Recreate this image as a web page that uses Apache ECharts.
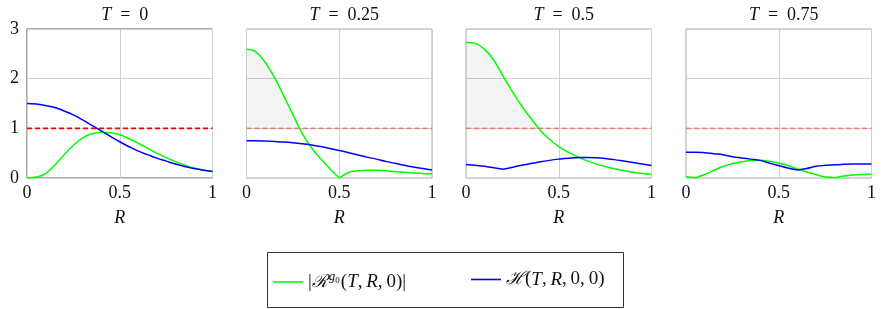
<!DOCTYPE html>
<html>
<head>
<meta charset="utf-8">
<script src="https://cdn.jsdelivr.net/npm/echarts@6/dist/echarts.min.js"></script>
<style>html,body{margin:0;padding:0;background:#fff}#c{width:883px;height:309px}</style>
</head>
<body>
<div id="c"></div>
<script>
// ---- data ----
const R = [0,0.05,0.1,0.15,0.2,0.25,0.3,0.35,0.4,0.45,0.5,0.55,0.6,0.65,0.7,0.75,0.8,0.85,0.9,0.95,1];
const panelTitles = ['0', '0.25', '0.5', '0.75'];
const xTicks = [0, 0.5, 1];
const yTicks = [0, 1, 2, 3];
const threshold = 1;

const green_T0   = [0,0.02,0.09,0.26,0.47,0.66,0.81,0.89,0.92,0.91,0.87,0.79,0.70,0.60,0.50,0.41,0.33,0.26,0.20,0.16,0.13];
const blue_T0    = [1.50,1.49,1.46,1.42,1.35,1.27,1.17,1.06,0.95,0.84,0.73,0.63,0.54,0.47,0.40,0.34,0.28,0.23,0.19,0.155,0.13];
const green_T025 = [2.59,2.54,2.33,2.03,1.66,1.28,0.90,0.61,0.39,0.18,0.0,0.11,0.145,0.155,0.155,0.145,0.13,0.115,0.10,0.09,0.08];
const blue_T025  = [0.75,0.75,0.745,0.735,0.725,0.71,0.69,0.665,0.635,0.595,0.555,0.51,0.465,0.42,0.38,0.335,0.295,0.255,0.22,0.19,0.16];
const green_T05  = [2.73,2.71,2.59,2.37,2.05,1.74,1.45,1.20,0.96,0.78,0.63,0.52,0.43,0.35,0.285,0.23,0.185,0.15,0.115,0.09,0.075];
const blue_T05   = [0.27,0.255,0.235,0.205,0.175,0.215,0.255,0.29,0.325,0.355,0.38,0.40,0.41,0.415,0.41,0.395,0.37,0.34,0.31,0.28,0.25];
const green_T075 = [0.03,0.0,0.07,0.155,0.23,0.29,0.325,0.35,0.355,0.335,0.30,0.25,0.18,0.12,0.07,0.02,0.01,0.04,0.06,0.07,0.075];
const blue_T075  = [0.52,0.52,0.51,0.49,0.47,0.43,0.405,0.38,0.355,0.30,0.25,0.20,0.16,0.19,0.235,0.255,0.265,0.275,0.28,0.28,0.28];

// indices where a curve has a corner (|.| touching zero or a switch of branch)
const greenKinks = [[], [10], [], [1]];
const blueKinks  = [[], [], [4], [12]];

const greens = [green_T0, green_T025, green_T05, green_T075];
const blues  = [blue_T0, blue_T025, blue_T05, blue_T075];
const shaded = [false, true, true, false];

// ---- layout ----
const lefts = [27, 246.5, 466, 686];
const W = 185.5, TOP = 29, H = 149;
const FONT = 'Liberation Serif';
const GREEN = '#00ff00', BLUE = '#0000ff';
const SMOOTH = 0.4;

const pairs = arr => arr.map((v, i) => [R[i], v]);
function segments(arr, kinks) {
  const cuts = [0].concat(kinks, [arr.length - 1]);
  const out = [];
  for (let k = 0; k < cuts.length - 1; k++) {
    const seg = [];
    for (let i = cuts[k]; i <= cuts[k + 1]; i++) seg.push([R[i], arr[i]]);
    out.push(seg);
  }
  return out;
}

const grids = [], xAxes = [], yAxes = [], series = [], titles = [];
for (let p = 0; p < 4; p++) {
  grids.push({left: lefts[p], top: TOP, width: W, height: H, show: true,
    borderColor: p === 0 ? '#555' : '#aaa', borderWidth: 1, backgroundColor: 'transparent'});
  xAxes.push({gridIndex: p, type: 'value', min: xTicks[0], max: xTicks[xTicks.length-1], interval: 0.5,
    axisLine: {show: false}, axisTick: {show: false},
    splitLine: {show: true, lineStyle: {color: '#d0d0d0', width: 1}},
    axisLabel: {margin: 6, fontFamily: FONT, fontSize: 18, color: '#111',
      formatter: v => String(v)},
    name: 'R', nameLocation: 'middle', nameGap: 31,
    nameTextStyle: {fontFamily: FONT, fontSize: 18, fontStyle: 'italic', color: '#111'}});
  yAxes.push({gridIndex: p, type: 'value', min: yTicks[0], max: yTicks[yTicks.length-1], interval: 1,
    axisLine: {show: false}, axisTick: {show: false},
    splitLine: {show: true, lineStyle: {color: '#d0d0d0', width: 1}},
    axisLabel: {show: p === 0, margin: 8, fontFamily: FONT, fontSize: 18, color: '#111'}});
  titles.push({text: '{i|T}\u2002=\u2002' + panelTitles[p], left: lefts[p] + W/2, top: 1, textAlign: 'center',
    textStyle: {fontFamily: FONT, fontSize: 18, fontWeight: 'normal', color: '#111',
      rich: {i: {fontFamily: FONT, fontSize: 18, fontStyle: 'italic', color: '#111'}}}});

  if (shaded[p]) {
    series.push({type: 'line', xAxisIndex: p, yAxisIndex: p, silent: true, symbol: 'none', smooth: SMOOTH,
      data: pairs(greens[p].map(v => Math.max(v, threshold))),
      lineStyle: {width: 0, opacity: 0},
      areaStyle: {origin: threshold, color: 'rgba(0,0,0,0.06)'}, z: 1});
  }
  series.push({type: 'line', xAxisIndex: p, yAxisIndex: p, silent: true, symbol: 'none',
    data: [[0, threshold], [1, threshold]],
    lineStyle: {color: '#ff0000', width: 1.8, type: [5, 3], opacity: p === 0 ? 1 : 0.4}, z: 2});
  segments(greens[p], greenKinks[p]).forEach(seg => series.push({name: 'g', type: 'line',
    xAxisIndex: p, yAxisIndex: p, symbol: 'none', smooth: SMOOTH, data: seg,
    lineStyle: {color: GREEN, width: 1.5}, itemStyle: {color: GREEN}, z: 3}));
  segments(blues[p], blueKinks[p]).forEach(seg => series.push({name: 'h', type: 'line',
    xAxisIndex: p, yAxisIndex: p, symbol: 'none', smooth: SMOOTH, data: seg,
    lineStyle: {color: BLUE, width: 1.5}, itemStyle: {color: BLUE}, z: 4}));
}

const LF = 19;
const rich = {
  n: {fontFamily: FONT, fontSize: LF, color: '#111', lineHeight: 22},
  i: {fontFamily: FONT, fontSize: LF, fontStyle: 'italic', color: '#111', lineHeight: 22},
  cal: {fontFamily: 'DejaVu Serif', fontSize: 18, fontStyle: 'italic', color: '#111', lineHeight: 22},
  sup: {fontFamily: FONT, fontSize: 13, fontStyle: 'italic', color: '#111', lineHeight: 12, padding: [0,0,10,1], verticalAlign: 'bottom'},
  sub: {fontFamily: FONT, fontSize: 9, color: '#111', lineHeight: 9, padding: [0,1,8,0], verticalAlign: 'bottom'}
};

const legendBase = {orient: 'horizontal', icon: 'rect', itemWidth: 30, itemHeight: 1.6, itemGap: 0,
  padding: 0, selectedMode: false, textStyle: {rich: rich}};

const chart = echarts.init(document.getElementById('c'), null, {renderer: 'canvas'});
chart.setOption({
  animation: false,
  backgroundColor: '#fff',
  title: titles,
  grid: grids, xAxis: xAxes, yAxis: yAxes, series: series,
  legend: [
    Object.assign({}, legendBase, {data: ['g'], left: 273, top: 270,
      formatter: () => '{n||}{cal|ℛ}{sup|g}{sub|0}{n|(}{i|T}{n|,\u2009}{i|R}{n|,\u20090)|}'}),
    Object.assign({}, legendBase, {data: ['h'], left: 471, top: 270,
      formatter: () => '{cal|ℋ}{n|(}{i|T}{n|,\u2009}{i|R}{n|,\u20090,\u20090)}'})
  ],
  graphic: [{type: 'rect', shape: {x: 267.5, y: 252.5, width: 356, height: 55},
    style: {fill: 'none', stroke: '#333', lineWidth: 1}, silent: true}]
});
</script>
</body>
</html>
